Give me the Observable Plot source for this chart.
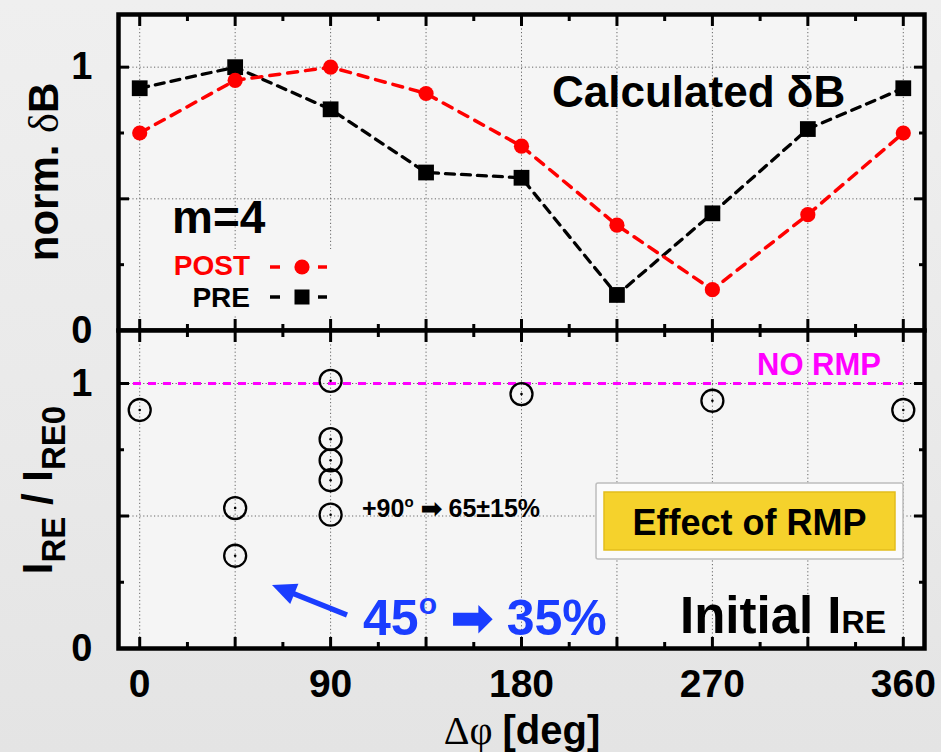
<!DOCTYPE html>
<html>
<head>
<meta charset="utf-8">
<script src="https://cdn.jsdelivr.net/npm/d3@7"></script>
<script src="https://cdn.jsdelivr.net/npm/@observablehq/plot@0.6"></script>
<style>
  body { margin: 0; background: #ececec; }
  #chart { position: relative; width: 941px; height: 752px; overflow: hidden;
           background: linear-gradient(180deg, #efefef 0%, #e9e9e9 60%, #e4e4e4 100%); }
  #chart svg { position: absolute; left: 0; }
</style>
</head>
<body>
<div id="chart"></div>
<script>
// Toroidal phase difference of the RMP coils [deg]
const angles = [0, 45, 90, 135, 180, 225, 270, 315, 360];
// Calculated m=4 delta-B, normalised
const preDB  = [0.92, 1.00, 0.84, 0.60, 0.58, 0.135, 0.445, 0.765, 0.92];
const postDB = [0.75, 0.95, 1.00, 0.90, 0.70, 0.40, 0.155, 0.44, 0.75];
// Measured runaway current ratio per discharge
const shotAngles = [0, 45, 45, 90, 90, 90, 90, 90, 180, 270, 360];
const shotRatio  = [0.90, 0.53, 0.35, 1.01, 0.79, 0.71, 0.635, 0.505, 0.96, 0.935, 0.90];
// Axis ticks
const xLabels = [0, 90, 180, 270, 360];
const xMajor = [0, 45, 90, 135, 180, 225, 270, 315, 360];
const xMinor = [22.5, 67.5, 112.5, 157.5, 202.5, 247.5, 292.5, 337.5];
const yLabels = [0, 1];
const yMajor = [0.5, 1];
const yMinor = [0.25, 0.75];
const noRmpLevel = 1;

const dbRows = angles.map((a, i) => ({angle: a, pre: preDB[i], post: postDB[i]}));
const shotRows = shotAngles.map((a, i) => ({angle: a, ratio: shotRatio[i]}));

const W = 941;
const xDomain = [-10, 370];
const yDomain = [0, 1.2];
const sans = "'Liberation Sans', Arial, Helvetica, sans-serif";
const plotStyle = {background: "transparent", overflow: "visible", fontFamily: sans, color: "black"};

const grid = () => [
  Plot.gridX(xMajor, {stroke: "#666", strokeOpacity: 1, strokeWidth: 1, strokeDasharray: "1.2,2.4"}),
  Plot.gridY(yMajor, {stroke: "#666", strokeOpacity: 1, strokeWidth: 1, strokeDasharray: "1.2,2.4"})
];

// ticks on all four sides, pointing into the panel
function inwardTicks() {
  const t = {label: null, fill: null, stroke: "black", strokeWidth: 3};
  return [
    Plot.axisX(xMajor, {...t, anchor: "top", tickSize: -11}),
    Plot.axisX(xMinor, {...t, anchor: "top", tickSize: -6}),
    Plot.axisX(xMajor, {...t, anchor: "bottom", tickSize: -11}),
    Plot.axisX(xMinor, {...t, anchor: "bottom", tickSize: -6}),
    Plot.axisY(yMajor, {...t, anchor: "left", tickSize: -11}),
    Plot.axisY(yMinor, {...t, anchor: "left", tickSize: -6}),
    Plot.axisY(yMajor, {...t, anchor: "right", tickSize: -11}),
    Plot.axisY(yMinor, {...t, anchor: "right", tickSize: -6})
  ];
}

const yText = () => Plot.axisY(yLabels, {anchor: "left", tickSize: 0, tickPadding: 26, fontSize: 38,
  fontWeight: "bold", label: null, fill: "black", tickFormat: d3.format("d")});

const upper = Plot.plot({
  width: W, height: 330,
  marginLeft: 118, marginRight: 17, marginTop: 14, marginBottom: 0,
  x: {domain: xDomain}, y: {domain: yDomain},
  style: plotStyle,
  marks: [
    Plot.frame({fill: "#f5f5f5", stroke: null}),
    ...grid(),
    Plot.line(dbRows, {x: "angle", y: "pre", stroke: "black", strokeWidth: 3.3, strokeDasharray: "9,7"}),
    Plot.line(dbRows, {x: "angle", y: "post", stroke: "#ff0000", strokeWidth: 3.5, strokeDasharray: "10,8"}),
    Plot.dot(dbRows, {x: "angle", y: "pre", symbol: "square", r: 8.9, fill: "black", stroke: null}),
    Plot.dot(dbRows, {x: "angle", y: "post", symbol: "circle", r: 7.6, fill: "#ff0000", stroke: null}),
    ...inwardTicks(),
    yText(),
    Plot.frame({stroke: "black", strokeWidth: 4.5})
  ]
});
upper.style.top = "0px";

const lower = Plot.plot({
  width: W, height: 422,
  marginLeft: 118, marginRight: 17, marginTop: 0, marginBottom: 104,
  x: {domain: xDomain}, y: {domain: yDomain},
  style: plotStyle,
  marks: [
    Plot.frame({fill: "#f5f5f5", stroke: null}),
    ...grid(),
    Plot.ruleY([noRmpLevel], {x1: xDomain[0], x2: angles[angles.length - 1], stroke: "#ff00ff",
      strokeWidth: 3, strokeDasharray: "8,7"}),
    Plot.dot(shotRows, {x: "angle", y: "ratio", r: 11, fill: "none", stroke: "black", strokeWidth: 2.3}),
    Plot.dot(shotRows, {x: "angle", y: "ratio", r: 1.3, fill: "black", stroke: null}),
    ...inwardTicks(),
    yText(),
    Plot.axisX(xLabels, {anchor: "bottom", tickSize: 0, tickPadding: 21, fontSize: 39,
      fontWeight: "bold", label: null, fill: "black", tickFormat: d3.format("d")}),
    Plot.frame({stroke: "black", strokeWidth: 4.5})
  ]
});
lower.style.top = "330px";

const chart = document.getElementById("chart");
chart.append(upper, lower);

// annotations, titles and legend
const ov = d3.select(chart).append("svg")
  .attr("width", W).attr("height", 752)
  .style("top", "0px").style("pointer-events", "none")
  .style("font-family", sans);

function label(x, y, parts, opts = {}) {
  const t = ov.append("text").attr("x", x).attr("y", y)
    .attr("font-weight", "bold").attr("font-size", opts.size || 30)
    .attr("fill", opts.fill || "black")
    .attr("text-anchor", opts.anchor || "start");
  if (opts.transform) t.attr("transform", opts.transform).attr("x", 0).attr("y", 0);
  for (const p of parts) {
    const s = t.append("tspan").text(p.text);
    for (const k in p) if (k !== "text") s.attr(k, p[k]);
  }
  return t;
}

// axis titles
label(0, 0, [
  {text: "norm. "},
  {text: "δ", "font-weight": "normal", "font-family": "'Liberation Serif', 'Times New Roman', serif"},
  {text: "B"}
], {size: 42, anchor: "middle", transform: "translate(58,172) rotate(-90)"});

label(0, 0, [
  {text: "I"},
  {text: "RE", "font-size": 33, dy: 13},
  {text: " / ", dy: -13},
  {text: "I"},
  {text: "RE0", "font-size": 33, dy: 13}
], {size: 42, anchor: "middle", transform: "translate(52,490) rotate(-90)"});

label(522, 744, [
  {text: "Δφ ", "font-weight": "normal", "font-family": "'Liberation Serif', 'Times New Roman', serif"},
  {text: "[deg]"}
], {size: 40, anchor: "middle"});

// upper panel texts
label(552, 107, [{text: "Calculated δB"}], {size: 44});

// legend box (hides the grid behind it)
ov.append("rect").attr("x", 158).attr("y", 249).attr("width", 185).attr("height", 66).attr("fill", "#f5f5f5");
label(172, 233, [{text: "m=4"}], {size: 46});
label(250, 275, [{text: "POST"}], {size: 28, anchor: "end", fill: "#ff0000"});
label(250, 307, [{text: "PRE"}], {size: 28, anchor: "end"});
const leg = ov.append("g");
[[267, "#ff0000"], [297, "black"]].forEach(([y, c]) => {
  leg.append("line").attr("x1", 270).attr("x2", 280).attr("y1", y).attr("y2", y).attr("stroke", c).attr("stroke-width", 3.5);
  leg.append("line").attr("x1", 318).attr("x2", 327).attr("y1", y).attr("y2", y).attr("stroke", c).attr("stroke-width", 3.5);
});
leg.append("circle").attr("cx", 302).attr("cy", 267).attr("r", 7.6).attr("fill", "#ff0000");
leg.append("rect").attr("x", 294.5).attr("y", 289.5).attr("width", 15).attr("height", 15).attr("fill", "black");

// lower panel texts
label(757, 375, [{text: "NO RMP"}], {size: 31, fill: "#ff00ff"});

label(362, 517, [
  {text: "+90"},
  {text: "o", "font-size": 15, dy: -10},
  {text: " ➡ 65±15%", dy: 10}
], {size: 25});

label(363, 635, [
  {text: "45"},
  {text: "o", "font-size": 30, dy: -21},
  {text: " ➡ 35%", dy: 21}
], {size: 50, fill: "#1a3dff"});

// blue pointer towards the 45 deg shots
ov.append("line").attr("x1", 347).attr("y1", 615).attr("x2", 292).attr("y2", 593)
  .attr("stroke", "#1a3dff").attr("stroke-width", 5.5);
ov.append("polygon").attr("points", "272,585 298.4,583.7 290.2,604.1").attr("fill", "#1a3dff");

// "Effect of RMP" badge
ov.append("rect").attr("x", 596).attr("y", 483).attr("width", 307).attr("height", 76)
  .attr("fill", "#fbfbfb").attr("stroke", "#bdbdbd").attr("stroke-width", 1.5).attr("rx", 2);
ov.append("rect").attr("x", 604).attr("y", 492).attr("width", 291).attr("height", 58)
  .attr("fill", "#f5d22c").attr("stroke", "#e2bd1d").attr("stroke-width", 1.5);
label(749.5, 535, [{text: "Effect of RMP"}], {size: 36, anchor: "middle"});

label(680, 633, [
  {text: "Initial I"},
  {text: "RE", "font-size": 32}
], {size: 51});
</script>
</body>
</html>
